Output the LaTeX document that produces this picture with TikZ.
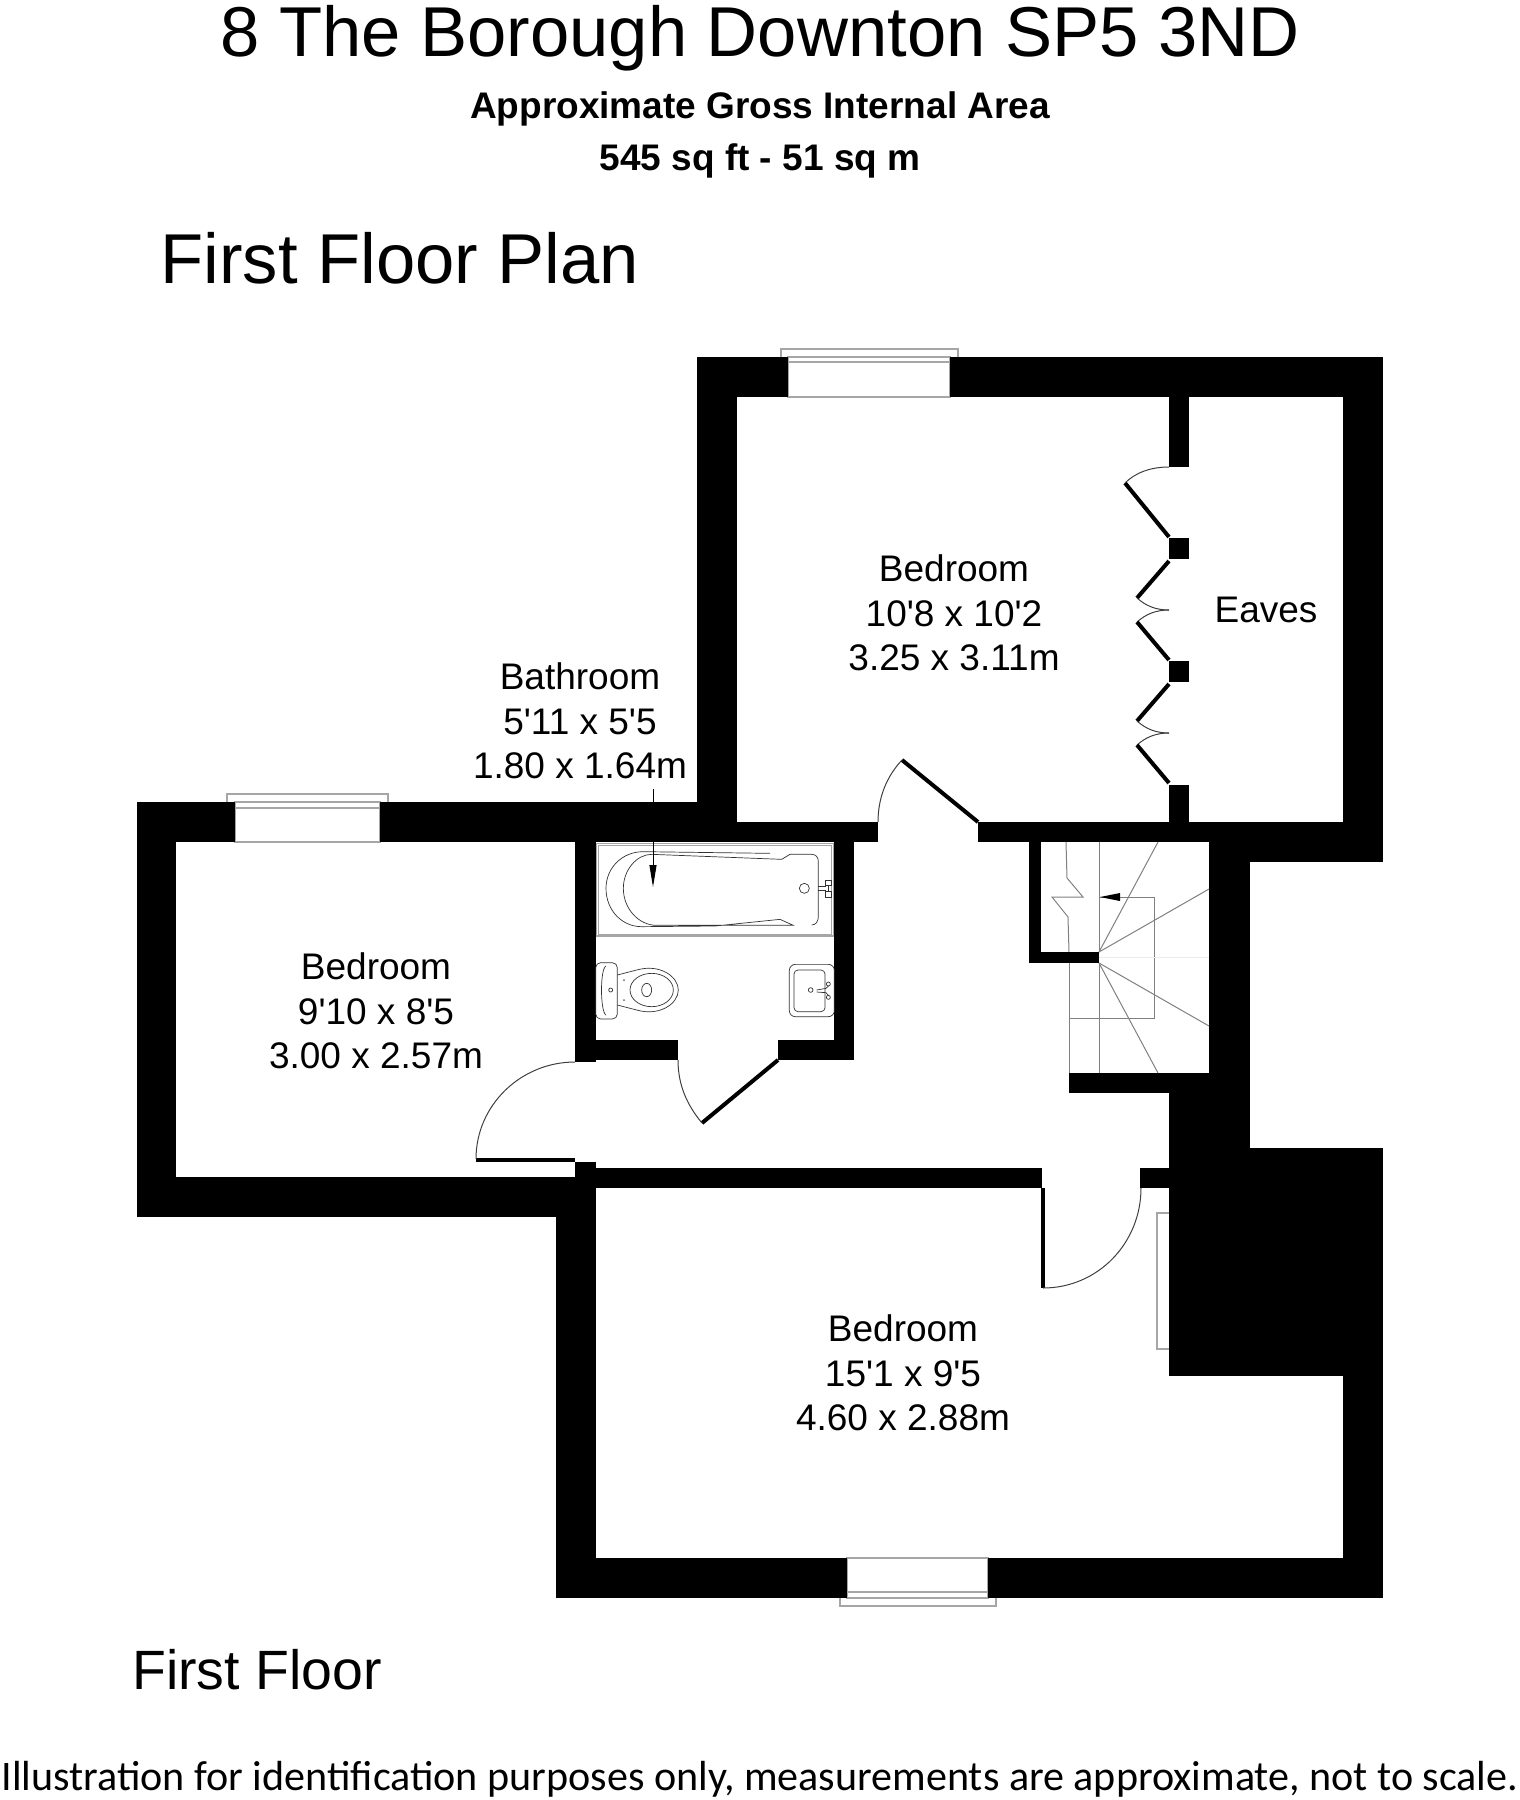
\documentclass[tikz,border=0pt]{standalone}
\usepackage{fontspec}
\setmainfont{Liberation Sans}
\newfontfamily\labelfont{Liberation Sans}
\newfontfamily\footfont{Carlito}
\usetikzlibrary{arrows.meta,positioning,calc}
\tikzset{
  roomlabel/.style={align=center,font=\labelfont\fontsize{18.5}{22.2}\selectfont,inner sep=0pt},
  bigtitle/.style={font=\fontsize{35.3}{40}\selectfont,inner sep=0pt},
  boldline/.style={font=\fontsize{18.5}{22}\selectfont\bfseries,inner sep=0pt},
  wall/.style={fill=black,draw=none},
  leaf/.style={line width=2pt},
  swing/.style={line width=0.5pt,black!75},
  windowline/.style={line width=0.8pt,black!35},
  fixture/.style={line width=0.35pt,black!80},
  stairline/.style={line width=0.5pt,black!50}
}
\begin{document}
\begin{tikzpicture}[x=0.5pt,y=-0.5pt]
    \useasboundingbox (0,0) rectangle (1520,1800);
    % Headings
    \node[bigtitle] (title) at (760,38) {8 The Borough Downton SP5 3ND};
    \node[boldline] (areaname) at (760,109) {Approximate Gross Internal Area};
    \node[boldline] (areasize) at (760,161) {545 sq ft - 51 sq m};
    \node[bigtitle,right] (plantitle) at (160,258) {First Floor Plan};
    \node[right,inner sep=0pt,font=\fontsize{27.7}{32}\selectfont] (floorname) at (132,1670) {First Floor};
    \node[inner sep=0pt,font=\footfont\fontsize{21.05}{25}\selectfont] (disclaimer) at (760,1779) {Illustration for identification purposes only, measurements are approximate, not to scale.};

    % Windows
    \foreach \a/\b/\top/\bot/\sill in {788/950/357/397/362, 235/380/802/842/808, 847/988/1558/1598/1592} {
        \draw[windowline] (\a,\top) rectangle (\b,\bot);
        \draw[windowline] (\a,\sill) -- (\b,\sill);
    }
    \draw[windowline] (781,357) -- (781,349) -- (958,349) -- (958,357);
    \draw[windowline] (227,802) -- (227,794) -- (388,794) -- (388,802);
    \draw[windowline] (840,1598) -- (840,1606) -- (996,1606) -- (996,1598);

    % Upper bedroom walls
    \fill[wall] (697,357) rectangle (788,397);
    \fill[wall] (950,357) rectangle (1383,397);
    \fill[wall] (697,357) rectangle (737,842);
    \fill[wall] (1343,357) rectangle (1383,862);
    \fill[wall] (978,822) rectangle (1383,842);
    \fill[wall] (737,822) rectangle (878,842);
    \foreach \ya/\yb in {397/467, 538/559, 661/682, 785/822}
        \fill[wall] (1169,\ya) rectangle (1189,\yb);

    % Stair walls
    \fill[wall] (1250,842) rectangle (1383,862);
    \fill[wall] (1209,842) rectangle (1250,1148);
    \fill[wall] (1069,1073) rectangle (1209,1093);
    \fill[wall] (1029,842) rectangle (1041,963);
    \fill[wall] (1029,952) rectangle (1099,963);

    % Chimney block
    \fill[wall] (1169,1093) rectangle (1250,1148);
    \fill[wall] (1169,1148) rectangle (1383,1376);

    % Lower bedroom walls
    \fill[wall] (1343,1148) rectangle (1383,1598);
    \fill[wall] (556,1558) rectangle (847,1598);
    \fill[wall] (988,1558) rectangle (1383,1598);
    \fill[wall] (556,1188) rectangle (596,1598);
    \fill[wall] (596,1168) rectangle (1042,1188);
    \fill[wall] (1140,1168) rectangle (1169,1188);
    \fill[wall] (575,1162) rectangle (596,1217);

    % Left bedroom and bathroom walls
    \fill[wall] (137,802) rectangle (235,842);
    \fill[wall] (380,802) rectangle (737,842);
    \fill[wall] (137,802) rectangle (176,1217);
    \fill[wall] (137,1177) rectangle (575,1217);
    \fill[wall] (575,842) rectangle (596,1062);
    \fill[wall] (834,842) rectangle (854,1060);
    \fill[wall] (596,1040) rectangle (678,1060);
    \fill[wall] (778,1040) rectangle (854,1060);

    % Doors
    \draw[leaf] (902,760) -- (978,822);
    \draw[swing] (878,822) .. controls (878,797) and (887,776) .. (902,760);
    \draw[leaf] (778,1060) -- (702,1123);
    \draw[swing] (678,1060) .. controls (678,1085) and (687,1105) .. (702,1123);
    \draw[leaf] (476,1160) -- (575,1160);
    \draw[swing] (575,1062) .. controls (521,1062) and (476,1105) .. (476,1159);
    \draw[leaf] (1043,1188) -- (1043,1288);
    \draw[swing] (1043,1288) .. controls (1098,1288) and (1141,1243) .. (1141,1188);

    % Folding doors to the eaves
    \draw[leaf] (1125,483) -- (1169,537);
    \draw[swing] (1169,467) .. controls (1150,467) and (1135,473) .. (1125,483);
    \foreach \dy in {0,123} {
        \draw[leaf] (1169,\dy+561) -- (1137,\dy+598);
        \draw[swing] (1137,\dy+598) .. controls (1146,\dy+606) and (1156,\dy+610) .. (1169,\dy+610);
        \draw[swing] (1169,\dy+610) .. controls (1156,\dy+610) and (1146,\dy+614) .. (1137,\dy+622);
        \draw[leaf] (1137,\dy+622) -- (1169,\dy+660);
    }

    % Cupboard beside the chimney
    \draw[windowline] (1169,1213) -- (1157,1213) -- (1157,1349) -- (1169,1349);

    % Stairs
    \draw[stairline] (1066,842) -- (1067,878) -- (1083,897) -- (1052,897) -- (1068,917) -- (1069,952);
    \draw[stairline] (1069,963) -- (1069,1073);
    \draw[stairline] (1099,842) -- (1099,952);
    \draw[stairline] (1099,963) -- (1099,1073);
    \draw[stairline] (1100,897) -- (1154,897) -- (1154,1018) -- (1069,1018);
    \draw[stairline] (1099,952) -- (1158,842);
    \draw[stairline] (1099,952) -- (1209,889);
    \draw[stairline] (1099,963) -- (1209,1026);
    \draw[stairline] (1099,963) -- (1158,1073);
    \draw[line width=0.2pt,black!8] (1099,957) -- (1209,957);
    \fill (1100,897) -- (1120,893) -- (1120,901) -- cycle;

    % Bathroom fittings
    \begin{scope}[shift={(580,820)},x=0.16667pt,y=-0.16667pt]
        \draw[windowline] (50,70) rectangle (760,348);
        \draw[windowline,line width=0.4pt] (55,75) rectangle (755,343);
        % bath
        \draw[fixture] (570,100) -- (190,95) .. controls (125,95) and (78,145) .. (78,205) .. controls (78,270) and (125,320) .. (185,320) -- (405,318) -- (600,298) -- (640,316) -- (230,316) .. controls (175,316) and (130,265) .. (130,205) .. controls (130,150) and (170,103) .. (215,103) -- (605,118) -- (630,103) -- (695,103) .. controls (708,103) and (715,112) .. (715,125) -- (715,290) .. controls (715,303) and (708,315) .. (695,315);
        \draw[fixture] (673,205) circle [radius=15];
        \draw[fixture] (715,198) -- (737,198) (715,212) -- (737,212);
        \draw[fixture] (737,180) rectangle (755,197) (737,215) rectangle (755,232) (745,197) -- (745,215);
        % toilet
        \draw[fixture,rounded corners=2.5pt] (47,428) rectangle (112,597);
        \draw[fixture] (78,438) .. controls (60,445) and (60,575) .. (78,585);
        \draw[fixture] (92,510) circle [radius=6];
        \draw[fixture] (112,465) -- (170,450) .. controls (240,430) and (295,470) .. (295,510) .. controls (295,550) and (240,590) .. (170,570) -- (112,555);
        \draw[fixture] (215,510) ellipse [x radius=65,y radius=50];
        \draw[fixture] (200,510) ellipse [x radius=15,y radius=20];
        \fill[black!60] (132,480) circle [radius=3] (132,540) circle [radius=3];
        % basin
        \draw[fixture,rounded corners=3pt] (628,433) rectangle (763,590);
        \draw[fixture,rounded corners=2pt] (642,450) rectangle (735,575);
        \draw[fixture] (692,510) circle [radius=7];
        \draw[fixture] (710,510) -- (738,505) -- (745,498) (710,516) -- (738,518) -- (745,526);
        \draw[fixture] (745,492) circle [radius=6] (745,532) circle [radius=6];
    \end{scope}

    % Room labels
    \node[roomlabel] (upperbed) at (954,613) {Bedroom\\10'8 x 10'2\\3.25 x 3.11m};
    \node[roomlabel] (bathlabel) at (580,721) {Bathroom\\5'11 x 5'5\\1.80 x 1.64m};
    \node[roomlabel] (leftbed) at (376,1011) {Bedroom\\9'10 x 8'5\\3.00 x 2.57m};
    \node[roomlabel] (lowerbed) at (903,1373) {Bedroom\\15'1 x 9'5\\4.60 x 2.88m};
    \node[roomlabel] (eaves) at (1266,610) {Eaves};

    % Arrow from the label to the bath
    \coordinate (bathtip) at (653,887);
    \draw[line width=0.5pt,shorten <=5pt,-{Triangle[length=11pt,width=3.5pt,sep=0pt]}] (bathlabel.south -| bathtip) -- (bathtip);
\end{tikzpicture}
\end{document}
